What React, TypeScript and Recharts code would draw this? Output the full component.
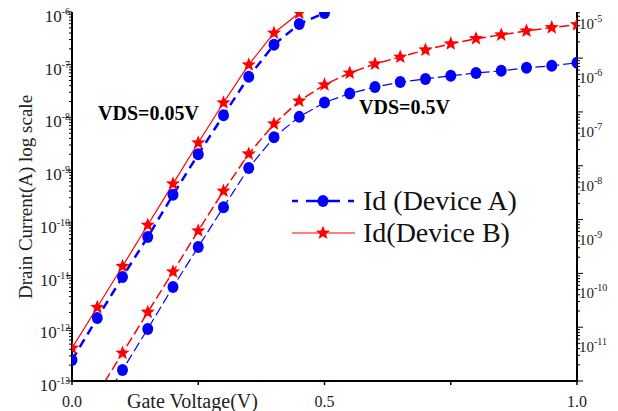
import React from 'react';
import { LineChart, Line, XAxis, YAxis, Legend } from 'recharts';

const FONT = "'Liberation Serif', 'Times New Roman', serif";
const BLUE = '#0000ff';
const RED = '#ff0000';

// Gate voltage (V), 50 mV steps
const gateVoltage = [
  0, 0.05, 0.1, 0.15, 0.2, 0.25, 0.3, 0.35, 0.4, 0.45, 0.5,
  0.55, 0.6, 0.65, 0.7, 0.75, 0.8, 0.85, 0.9, 0.95, 1.0,
];

// VDS = 0.05 V, left axis (A)
const idALow = [2.5e-13, 1.56e-12, 9.4e-12, 5.4e-11, 3.4e-10, 2.0e-9, 1.1e-8, 5.9e-8, 2.4e-7, 5.9e-7, 9.6e-7];
const idBLow = [4.2e-13, 2.5e-12, 1.5e-11, 9.1e-11, 5.5e-10, 3.3e-9, 1.9e-8, 1.0e-7, 4.0e-7, 9.6e-7, 2.0e-6];

// VDS = 0.5 V, right axis (A)
const idAHigh = [
  null, 2.8e-13, 1.6e-12, 9.3e-12, 5.6e-11, 3.1e-10, 1.7e-9, 9.1e-9, 3.4e-8, 8.1e-8, 1.5e-7,
  2.2e-7, 2.9e-7, 3.6e-7, 4.1e-7, 4.7e-7, 5.3e-7, 5.8e-7, 6.6e-7, 7.2e-7, 8.2e-7,
];
const idBHigh = [
  null, 5.8e-13, 3.3e-12, 1.9e-11, 1.07e-10, 6.2e-10, 3.4e-9, 1.66e-8, 6.0e-8, 1.6e-7, 3.2e-7,
  5.3e-7, 7.8e-7, 1.05e-6, 1.42e-6, 1.85e-6, 2.3e-6, 2.7e-6, 3.2e-6, 3.7e-6, 4.2e-6,
];

// axis ticks
const leftDecades = [1e-13, 1e-12, 1e-11, 1e-10, 1e-9, 1e-8, 1e-7, 1e-6];
const rightDecades = [1e-12, 1e-11, 1e-10, 1e-9, 1e-8, 1e-7, 1e-6, 1e-5];
const rightLabeled = [1e-11, 1e-10, 1e-9, 1e-8, 1e-7, 1e-6, 1e-5];
const xTicks = [0, 0.25, 0.5, 0.75, 1];
const xLabels = [0, 0.5, 1];

const leftDomain = [1e-13, 1e-6];
const rightDomain = [1e-12, 7.2e-6];

const data = gateVoltage.map((v, i) => ({
  v,
  aLow: idALow[i] ?? null,
  bLow: idBLow[i] ?? null,
  aHigh: idAHigh[i] ?? null,
  bHigh: idBHigh[i] ?? null,
}));

const withMinors = (decades: number[], max: number) => {
  const out: number[] = [];
  decades.forEach((d) => {
    out.push(d);
    for (let m = 2; m <= 9; m++) if (m * d <= max) out.push(m * d);
  });
  return out;
};
const leftTicks = withMinors(leftDecades.slice(0, -1), leftDomain[1]).concat([1e-6]);
const rightTicks = withMinors(rightDecades, rightDomain[1]);

const expOf = (v: number) => Math.round(Math.log10(v));

const LeftTick = ({ x, y, payload }: any) => {
  const v = payload.value;
  const major = leftDecades.includes(v);
  return (
    <g>
      <line x1={x} x2={x - (major ? 6 : 3)} y1={y} y2={y} stroke="#000" strokeWidth={1} />
      {major && (
        <text x={x - 2} y={y + 10} textAnchor="end" fontFamily={FONT} fontSize={17} fill="#222">
          10<tspan fontSize={10} dy={-7}>{expOf(v)}</tspan>
        </text>
      )}
    </g>
  );
};

const RightTick = ({ x, y, payload }: any) => {
  const v = payload.value;
  const major = rightDecades.includes(v);
  const inside = v <= rightDomain[1];
  return (
    <g>
      {inside && <line x1={x} x2={x + (major ? 6 : 3)} y1={y} y2={y} stroke="#000" strokeWidth={1} />}
      {rightLabeled.includes(v) && (
        <text x={x + 2} y={y + 25} textAnchor="start" fontFamily={FONT} fontSize={15} fill="#222">
          10<tspan fontSize={10} dy={-7}>{expOf(v)}</tspan>
        </text>
      )}
    </g>
  );
};

const BottomTick = ({ x, y, payload }: any) => (
  <g>
    <line x1={x} x2={x} y1={y} y2={y + 4} stroke="#000" strokeWidth={1.5} />
    {xLabels.includes(payload.value) && (
      <text x={x} y={y + 26} textAnchor="middle" fontFamily={FONT} fontSize={16} fill="#222">
        {payload.value.toFixed(1)}
      </text>
    )}
  </g>
);

const TopTick = ({ x, y, payload }: any) =>
  payload.value > 0 && payload.value < 1 ? (
    <line x1={x} x2={x} y1={y} y2={y + 4} stroke="#000" strokeWidth={1.5} />
  ) : (
    <g />
  );

const starPoints = (cx: number, cy: number, R: number, r: number) => {
  const pts: string[] = [];
  for (let k = 0; k < 10; k++) {
    const rad = k % 2 === 0 ? R : r;
    const a = -Math.PI / 2 + (k * Math.PI) / 5;
    pts.push(`${cx + rad * Math.cos(a)},${cy + rad * Math.sin(a)}`);
  }
  return pts.join(' ');
};

const CircleDot = (props: any) => {
  const { cx, cy, index } = props;
  if (cx == null || cy == null) return <g key={`c-${index}`} />;
  return <ellipse key={`c-${index}`} cx={cx} cy={cy} rx={5.5} ry={6} fill={BLUE} />;
};

const StarDot = (props: any) => {
  const { cx, cy, index } = props;
  if (cx == null || cy == null) return <g key={`s-${index}`} />;
  return <polygon key={`s-${index}`} points={starPoints(cx, cy, 7.5, 3.2)} fill={RED} />;
};

const legendNames = ['Id (Device A)', 'Id(Device B)'];

const renderLegend = (props: any) => {
  const payload = (props.payload || []).filter(
    (e: any) => e.type !== 'none' && legendNames.includes(e.value)
  );
  return (
    <div style={{ fontFamily: FONT, fontSize: 28, color: '#111' }}>
      {payload.map((entry: any, i: number) => {
        const isA = entry.color === BLUE;
        return (
          <div key={i} style={{ display: 'flex', alignItems: 'center', height: 32 }}>
            <svg width={70} height={24} style={{ flex: 'none' }}>
              <line
                x1={2}
                x2={65}
                y1={12}
                y2={12}
                stroke={entry.color}
                strokeWidth={isA ? 2.5 : 1.2}
                strokeDasharray={isA ? '6 8 34 8' : undefined}
              />
              {isA ? (
                <ellipse cx={33} cy={12} rx={5.5} ry={6} fill={BLUE} />
              ) : (
                <polygon points={starPoints(33, 12, 7.5, 3.2)} fill={RED} />
              )}
            </svg>
            <span style={{ marginLeft: 3, lineHeight: '32px', whiteSpace: 'nowrap' }}>{entry.value}</span>
          </div>
        );
      })}
    </div>
  );
};

export default function App() {
  return (
    <div style={{ position: 'absolute', left: 0, top: 0, background: '#fff' }}>
      <LineChart width={618} height={411} data={data} margin={{ top: 12, right: 6, bottom: 0, left: 12 }}>
        <XAxis
          dataKey="v"
          type="number"
          domain={[0, 1]}
          allowDataOverflow
          ticks={xTicks}
          interval={0}
          height={30}
          tickSize={0}
          tickMargin={0}
          tickLine={false}
          axisLine={{ stroke: '#000', strokeWidth: 2 }}
          tick={(p: any) => <BottomTick {...p} />}
        />
        <XAxis
          xAxisId="top"
          orientation="top"
          dataKey="v"
          type="number"
          domain={[0, 1]}
          allowDataOverflow
          ticks={xTicks}
          interval={0}
          height={0}
          tickSize={0}
          tickMargin={0}
          tickLine={false}
          axisLine={{ stroke: '#000', strokeWidth: 2 }}
          tick={(p: any) => <TopTick {...p} />}
        />
        <YAxis
          yAxisId="left"
          scale="log"
          type="number"
          domain={leftDomain}
          allowDataOverflow
          ticks={leftTicks}
          interval={0}
          width={60}
          tickSize={0}
          tickMargin={0}
          tickLine={false}
          axisLine={{ stroke: '#000', strokeWidth: 2 }}
          tick={(p: any) => <LeftTick {...p} />}
        />
        <YAxis
          yAxisId="right"
          orientation="right"
          scale="log"
          type="number"
          domain={rightDomain}
          allowDataOverflow
          ticks={rightTicks}
          interval={0}
          width={35}
          tickSize={0}
          tickMargin={0}
          tickLine={false}
          axisLine={{ stroke: '#000', strokeWidth: 2 }}
          tick={(p: any) => <RightTick {...p} />}
        />
        <Legend
          layout="horizontal"
          verticalAlign="middle"
          align="center"
          content={renderLegend}
          wrapperStyle={{ left: 290, top: 185, width: 260, height: 64 }}
        />
        <Line
          yAxisId="right"
          dataKey="aHigh"
          name="aHigh"
          stroke={BLUE}
          strokeWidth={1.2}
          strokeDasharray="10 4"
          dot={CircleDot}
          legendType="none"
          isAnimationActive={false}
        />
        <Line
          yAxisId="right"
          dataKey="bHigh"
          name="bHigh"
          stroke={RED}
          strokeWidth={1.5}
          strokeDasharray="10 4"
          dot={StarDot}
          legendType="none"
          isAnimationActive={false}
        />
        <Line
          yAxisId="left"
          dataKey="aLow"
          name="Id (Device A)"
          stroke={BLUE}
          strokeWidth={2.5}
          strokeDasharray="9 6"
          dot={CircleDot}
          isAnimationActive={false}
        />
        <Line
          yAxisId="left"
          dataKey="bLow"
          name="Id(Device B)"
          stroke={RED}
          strokeWidth={1.2}
          dot={StarDot}
          isAnimationActive={false}
        />
        <text x={98} y={120} fontFamily={FONT} fontSize={20} fontWeight="bold" fill="#000">
          VDS=0.05V
        </text>
        <text x={359} y={114} fontFamily={FONT} fontSize={20} fontWeight="bold" fill="#000">
          VDS=0.5V
        </text>
        <text
          x={25}
          y={197}
          transform="rotate(-90 25 197)"
          textAnchor="middle"
          dominantBaseline="central"
          fontFamily={FONT}
          fontSize={19}
          fill="#222"
        >
          Drain Current(A) log scale
        </text>
        <text x={127} y={408} fontFamily={FONT} fontSize={20} fill="#222">
          Gate Voltage(V)
        </text>
      </LineChart>
    </div>
  );
}
